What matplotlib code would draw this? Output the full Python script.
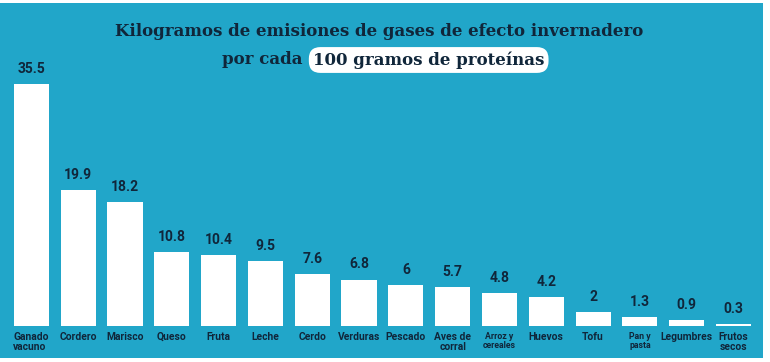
import matplotlib
matplotlib.use("Agg")
import matplotlib.pyplot as plt
from matplotlib.patches import Rectangle

categories = ["Ganado\nvacuno", "Cordero", "Marisco", "Queso", "Fruta", "Leche", "Cerdo",
              "Verduras", "Pescado", "Aves de\ncorral", "Arroz y\ncereales", "Huevos",
              "Tofu", "Pan y\npasta", "Legumbres", "Frutos\nsecos"]
values = [35.5, 19.9, 18.2, 10.8, 10.4, 9.5, 7.6, 6.8, 6, 5.7, 4.8, 4.2, 2, 1.3, 0.9, 0.3]
value_labels = ["35.5", "19.9", "18.2", "10.8", "10.4", "9.5", "7.6", "6.8", "6", "5.7",
                "4.8", "4.2", "2", "1.3", "0.9", "0.3"]
small_labels = {"Arroz y\ncereales", "Pan y\npasta"}

BG = "#21a6c9"
DARK = "#10263a"
W, H = 770, 362

fig = plt.figure(figsize=(W / 100, H / 100), dpi=100)
fig.patch.set_facecolor("white")

bg = fig.add_axes([0, 0, 1, 1], zorder=0)
bg.set_xlim(0, W)
bg.set_ylim(H, 0)
bg.axis("off")
bg.add_patch(Rectangle((0, 3), 763, 355, facecolor=BG, edgecolor="none"))

ax = fig.add_axes([0, 36 / H, 1, 326 / H], zorder=1)
ax.set_facecolor("none")
x = list(range(len(values)))
ax.bar(x, values, width=0.75, color="white", zorder=2)
ax.set_xlim(-0.67, 15.78)
ax.set_ylim(0, 326 / 6.82)
ax.axis("off")

for i, (v, lab) in enumerate(zip(values, value_labels)):
    ax.annotate(lab, (i, v), xytext=(0, 6), textcoords="offset points", ha="center",
                va="bottom", fontsize=10, fontweight="bold", family="Roboto", color=DARK)

for i, c in enumerate(categories):
    fs = 6.3 if c in small_labels else 7.4
    ha = "center"
    xx = i
    if i == 0:
        ha = "left"
        xx = i - 0.39
    ax.annotate(c, (xx, 0), xytext=(0, -4), textcoords="offset points", ha=ha, va="top",
                fontsize=fs, fontweight="bold", family="Roboto", color=DARK,
                linespacing=1.1, annotation_clip=False)

fig.text(379 / W, 1 - 32 / H, "Kilogramos de emisiones de gases de efecto invernadero",
         ha="center", va="center", fontsize=12, fontweight="bold", family="DejaVu Serif",
         color=DARK, zorder=3)
fig.text(303 / W, 1 - 60 / H, "por cada", ha="right", va="center", fontsize=12,
         fontweight="bold", family="DejaVu Serif", color=DARK, zorder=3)
fig.text(313 / W, 1 - 60 / H, "100 gramos de proteínas", ha="left", va="center",
         fontsize=12, fontweight="bold", family="DejaVu Serif", color=DARK, zorder=3,
         bbox=dict(boxstyle="round,pad=0.25,rounding_size=0.7", facecolor="white",
                   edgecolor="none"))

fig.savefig("out.png", dpi=100, facecolor=fig.get_facecolor())
